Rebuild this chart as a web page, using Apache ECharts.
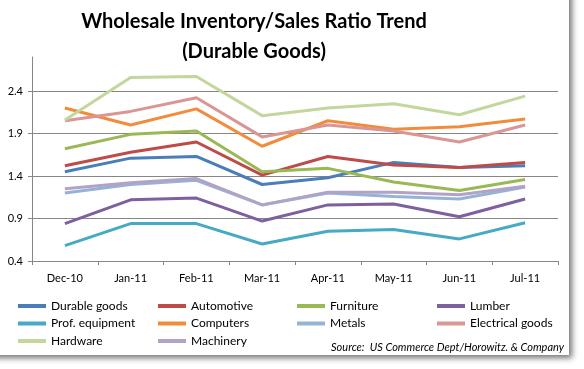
<!DOCTYPE html>
<html><head><meta charset="utf-8">
<script src="https://cdn.jsdelivr.net/npm/echarts@6/dist/echarts.min.js"></script>
<style>html,body{margin:0;padding:0;background:#fff}#c{width:584px;height:369px}</style>
</head><body><div id="c"></div>
<script>
const categories = ['Dec-10','Jan-11','Feb-11','Mar-11','Apr-11','May-11','Jun-11','Jul-11'];
const durableGoods   = [1.45, 1.61, 1.63, 1.30, 1.38, 1.56, 1.50, 1.52];
const automotive     = [1.52, 1.68, 1.80, 1.41, 1.63, 1.53, 1.50, 1.56];
const furniture      = [1.72, 1.89, 1.93, 1.45, 1.49, 1.33, 1.23, 1.36];
const lumber         = [0.84, 1.12, 1.14, 0.87, 1.06, 1.07, 0.92, 1.13];
const profEquipment  = [0.58, 0.84, 0.84, 0.60, 0.75, 0.77, 0.66, 0.85];
const computers      = [2.20, 2.00, 2.19, 1.75, 2.05, 1.95, 1.98, 2.07];
const metals         = [1.20, 1.30, 1.35, 1.06, 1.20, 1.16, 1.13, 1.27];
const electricalGoods= [2.05, 2.16, 2.32, 1.86, 2.00, 1.93, 1.80, 2.00];
const hardware       = [2.06, 2.56, 2.57, 2.11, 2.20, 2.25, 2.12, 2.34];
const machinery      = [1.25, 1.32, 1.37, 1.06, 1.21, 1.21, 1.18, 1.28];
const yTicks = [0.4, 0.9, 1.4, 1.9, 2.4];

const seriesDefs = [
  ['Durable goods', durableGoods, '#4A7EBB'],
  ['Automotive', automotive, '#BE4B48'],
  ['Furniture', furniture, '#98B954'],
  ['Lumber', lumber, '#7D60A0'],
  ['Prof. equipment', profEquipment, '#46AAC5'],
  ['Computers', computers, '#F08C3C'],
  ['Metals', metals, '#95B3D7'],
  ['Electrical goods', electricalGoods, '#D99694'],
  ['Hardware', hardware, '#C3D69B'],
  ['Machinery', machinery, '#B3A2C7']
];

const chart = echarts.init(document.getElementById('c'), null, {renderer:'canvas'});
const legendCols = [
  ['Durable goods','Prof. equipment','Hardware'],
  ['Automotive','Computers','Machinery'],
  ['Furniture','Metals'],
  ['Lumber','Electrical goods']
];
const legendLeft = [18, 158, 297, 437];
const font = 'Lato, "Open Sans", sans-serif';

chart.setOption({
  animation: false,
  graphic: [
    {type:'rect', z:-1, shape:{x:-20, y:-20, width:589, height:375},
     style:{fill:'#fff', shadowBlur:6, shadowColor:'rgba(0,0,0,0.55)', shadowOffsetX:3, shadowOffsetY:3}},
    {type:'text', x:254, y:22, z:10,
     style:{text:'Wholesale Inventory/Sales Ratio Trend', fill:'#000', font:'bold 20px ' + font, textAlign:'center', textVerticalAlign:'middle'}},
    {type:'text', x:254, y:51.5, z:10,
     style:{text:'(Durable Goods)', fill:'#000', font:'bold 20px ' + font, textAlign:'center', textVerticalAlign:'middle'}},
    {type:'text', x:564, y:347, z:10,
     style:{text:'Source:  US Commerce Dept/Horowitz. & Company', fill:'#000', font:'italic 11px ' + font, textAlign:'right', textVerticalAlign:'middle'}}
  ],
  grid: {left:32, right:26, top:57, bottom:108, containLabel:false},
  legend: legendCols.map((d, i) => ({
    data: d, orient:'vertical', left: legendLeft[i], top: 299, padding: 0,
    itemWidth: 28, itemHeight: 4, itemGap: 3.5, icon:'rect',
    textStyle:{fontFamily: font, fontSize: 12, color:'#000', lineHeight: 14},
    selectedMode:false
  })),
  xAxis: {
    type:'category', data: categories, boundaryGap:true,
    axisLine:{lineStyle:{color:'#868686', width:1}},
    axisTick:{show:true, length:4, lineStyle:{color:'#868686'}},
    axisLabel:{color:'#000', fontFamily:font, fontSize:11, margin:12}
  },
  yAxis: {
    type:'value', min:0.4, max:2.8, interval:0.5,
    axisLine:{show:true, lineStyle:{color:'#868686', width:1}},
    axisTick:{show:true, length:4, lineStyle:{color:'#868686'}},
    axisLabel:{color:'#000', fontFamily:font, fontSize:11, margin:9, showMaxLabel:false,
      formatter: v => (yTicks.some(t => Math.abs(t - v) < 1e-6) ? v.toFixed(1) : '')},
    splitLine:{show:true, showMaxLine:false, lineStyle:{color:'#868686', width:1}}
  },
  series: seriesDefs.map(([name, data, color]) => ({
    name, type:'line', data, symbol:'none', smooth:false,
    lineStyle:{color, width:3}, itemStyle:{color}
  }))
});
</script>
</body></html>
